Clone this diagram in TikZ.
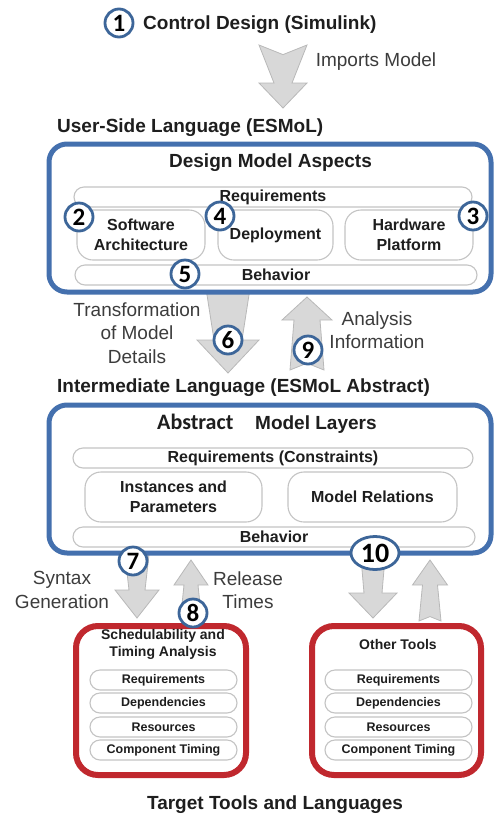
\documentclass[tikz,border=0pt]{standalone}
\usepackage{fontspec}
\setmainfont{Liberation Sans}
\newfontfamily\numfont{Carlito}
\usetikzlibrary{shapes.geometric}

\definecolor{layerblue}{HTML}{4470AE}
\definecolor{circblue}{HTML}{3D6699}
\definecolor{toolred}{HTML}{C0282E}
\definecolor{pillgray}{HTML}{C4C4C4}
\definecolor{arrowfill}{HTML}{D8D8D8}
\definecolor{arrowedge}{HTML}{B8B8B8}
\definecolor{textdark}{HTML}{1E1E1E}
\definecolor{textgray}{HTML}{3C3C3C}

\tikzset{
  % wide grey block arrow: notched tail, tapering shaft, triangular head
  % #1 length, #2 tail half-width, #3 neck half-width, #4 head half-width, #5 head length
  pics/blockarrow/.style n args={5}{code={
    \path[fill=arrowfill, draw=arrowedge, line width=0.8pt, line join=miter]
      (-#2,0) -- (0,0.4*#2) -- (#2,0) -- (#3,#1-#5) -- (#4,#1-#5) -- (0,#1)
      -- (-#4,#1-#5) -- (-#3,#1-#5) -- cycle;
  }},
  heading/.style={font=\bfseries\fontsize{19}{23}\selectfont, text=textdark, inner sep=0pt},
  note/.style={font=\fontsize{19}{23.5}\selectfont, text=textgray, align=center, inner sep=0pt},
  layerbox/.style={draw=layerblue, line width=5pt, fill=white, rounded corners=18pt,
    minimum width=442pt, minimum height=148pt, inner sep=0pt},
  toolbox/.style={draw=toolred, line width=6pt, fill=white, rounded corners=22pt,
    minimum width=170pt, minimum height=149pt, inner sep=0pt},
  pill/.style={draw=pillgray, line width=1.1pt, fill=white, rounded corners=10pt,
    minimum height=20pt, inner sep=0pt, text=textdark,
    font=\bfseries\fontsize{16}{19}\selectfont},
  smallpill/.style={pill, minimum width=147pt, font=\bfseries\fontsize{12.5}{15}\selectfont},
  aspect/.style={draw=pillgray, line width=1.1pt, fill=white, rounded corners=16pt,
    minimum height=50pt, inner sep=0pt, text=textdark, align=center,
    font=\bfseries\fontsize{16}{20}\selectfont},
  num/.style={circle, draw=circblue, line width=2.8pt, fill=white, minimum size=28pt,
    inner sep=0pt, text=black, font=\numfont\bfseries\fontsize{25}{25}\selectfont},
}

\begin{document}
\begin{tikzpicture}[x=1pt, y=-1pt]
\useasboundingbox (0,0) rectangle (496,815);

% ---- block arrows (drawn first, the boxes cover their ends) ----
\pic at (283,45) {blockarrow={63}{24}{9}{24}{25}};
\pic at (228,282) {blockarrow={91}{23}{14}{31}{33}};
\pic[yscale=-1] at (307,370) {blockarrow={73}{17}{13}{25}{23}};
\pic at (137,546) {blockarrow={72}{13}{8}{22}{28}};
\pic[yscale=-1] at (191,614) {blockarrow={54}{10}{7}{17}{25}};
\pic at (373,546) {blockarrow={72}{13}{9}{24}{25}};
\pic[yscale=-1] at (430,621) {blockarrow={61}{11}{7.5}{17.5}{25}};

% ---- headings ----
\node[heading, anchor=base west] (simulink) at (143,29) {Control Design (Simulink)};
\node[heading, anchor=base west] (usl) at (57,132) {User-Side Language (ESMoL)};
\node[heading, anchor=base west] (ilang) at (57,392) {Intermediate Language (ESMoL Abstract)};
\node[heading, anchor=base] (target) at (275,809) {Target Tools and Languages};

% ---- arrow labels ----
\node[note] (imports) at (376,62) {Imports Model};
\node[note] (transf) at (137,333) {Transformation\\of Model\\Details};
\node[note] (analysis) at (377,330) {Analysis\\Information};
\node[note] (syntax) at (62,590) {Syntax\\Generation};
\node[note] (release) at (248,590) {Release\\Times};

% ---- user-side language: design model aspects ----
\node[layerbox] (userbox) at (270,218) {};
\node[heading, anchor=base] (dma) at (270.5,167) {Design Model Aspects};
\node[pill, minimum width=398pt] (ureq) at (273,197) {Requirements};
\node[aspect, minimum width=128pt] (swarch) at (141,235) {Software\\Architecture};
\node[aspect, minimum width=115pt] (deploy) at (275.5,235) {Deployment};
\node[aspect, minimum width=128pt] (hwplat) at (409,235) {Hardware\\Platform};
\node[pill, minimum width=402pt] (ubeh) at (276,275) {Behavior};

% ---- intermediate language: abstract model layers ----
\node[layerbox] (absbox) at (270,479) {};
\node[anchor=base west, inner sep=0pt, text=textdark,
      font=\numfont\bfseries\fontsize{22}{24}\selectfont] (absword) at (157,429) {Abstract};
\node[heading, anchor=base west] (layers) at (255,429) {Model Layers};
\node[pill, minimum width=400pt] (areq) at (273,458) {Requirements (Constraints)};
\node[aspect, minimum width=177pt] (inst) at (173.5,497) {Instances and\\Parameters};
\node[aspect, minimum width=169pt] (rel) at (372.5,497) {Model Relations};
\node[pill, minimum width=402pt] (abeh) at (274,537) {Behavior};

% ---- target tools ----
\node[toolbox] (sched) at (161,700.5) {};
\node[inner sep=0pt, align=center, text=textdark,
      font=\bfseries\fontsize{14}{17}\selectfont] (schedtitle) at (163,644) {Schedulability and\\Timing Analysis};
\node[smallpill] (sreq) at (163.5,680) {Requirements};
\node[smallpill] (sdep) at (163.5,703) {Dependencies};
\node[smallpill] (sres) at (163.5,727) {Resources};
\node[smallpill] (stim) at (163.5,750) {Component Timing};

\node[toolbox, minimum width=169pt] (other) at (396.5,700.5) {};
\node[inner sep=0pt, text=textdark,
      font=\bfseries\fontsize{14}{17}\selectfont] (othertitle) at (398,644) {Other Tools};
\node[smallpill] (oreq) at (398.5,680) {Requirements};
\node[smallpill] (odep) at (398.5,703) {Dependencies};
\node[smallpill] (ores) at (398.5,727) {Resources};
\node[smallpill] (otim) at (398.5,750) {Component Timing};

% ---- step numbers ----
\node[num] (n1) at (119,23) {1};
\node[num] (n2) at (79,217) {2};
\node[num] (n3) at (473,216) {3};
\node[num] (n4) at (220,216) {4};
\node[num] (n5) at (185,274) {5};
\node[num] (n6) at (228,340) {6};
\node[num] (n7) at (133,561) {7};
\node[num] (n8) at (193,613) {8};
\node[num] (n9) at (308,350) {9};
\node[num, ellipse, minimum width=48pt, minimum height=33pt,
      font=\numfont\bfseries\fontsize{28}{28}\selectfont] (n10) at (375,553) {10};
\end{tikzpicture}
\end{document}
